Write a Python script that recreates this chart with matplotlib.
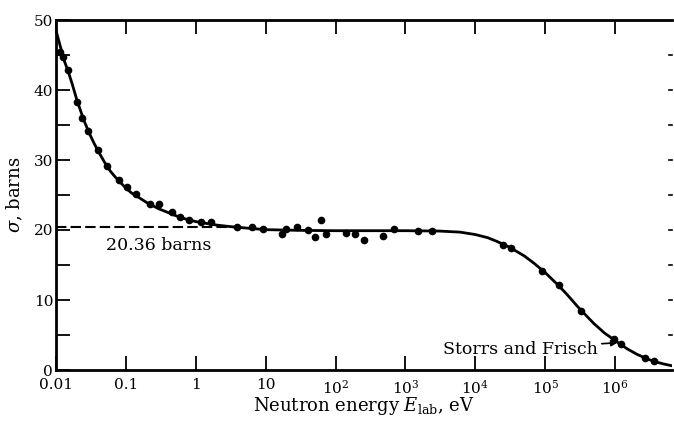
import matplotlib
matplotlib.use("Agg")
import matplotlib.pyplot as plt
from matplotlib.ticker import FixedLocator, NullLocator

# measured points (energy in eV, cross section in barns)
energy_pts = [0.0114, 0.0126, 0.0148, 0.0199, 0.0235, 0.0286, 0.0398, 0.0535,
              0.0794, 0.103, 0.139, 0.22, 0.296, 0.45, 0.59, 0.79, 1.18, 1.63,
              3.85, 6.3, 9.06, 16.9, 19.3, 27.7, 39.8, 50.1, 61.1, 72.0,
              139, 187, 251, 469, 674, 1535, 2430,
              2.51e4, 3.27e4, 9.06e4, 1.58e5, 3.27e5, 9.68e5, 1.22e6, 2.69e6, 3.6e6]
sigma_pts = [45.4, 44.7, 42.9, 38.3, 36.0, 34.1, 31.4, 29.2,
             27.2, 26.2, 25.2, 23.7, 23.7, 22.6, 21.9, 21.5, 21.2, 21.2,
             20.4, 20.4, 20.1, 19.4, 20.1, 20.4, 20.0, 19.0, 21.4, 19.4,
             19.6, 19.5, 18.6, 19.2, 20.2, 19.9, 19.9,
             17.9, 17.4, 14.1, 12.2, 8.5, 4.4, 3.7, 1.7, 1.3]

# fitted curve
curve_E = [0.01, 0.012, 0.013, 0.015, 0.017, 0.02, 0.025, 0.03, 0.035, 0.04,
           0.05, 0.06, 0.07, 0.085, 0.1, 0.12, 0.15, 0.2, 0.25, 0.3, 0.4,
           0.5, 0.7, 1, 1.5, 2, 3, 5, 10, 30, 100, 1000,
           3000, 6000, 1e4, 1.5e4, 2e4, 3e4, 5e4, 7e4, 1e5, 1.5e5, 2e5, 3e5,
           4e5, 5e5, 7e5, 1e6, 1.5e6, 2e6, 2.5e6, 3e6, 4e6, 5e6, 6.5e6]
curve_sigma = [48.5, 45.6, 44.3, 42.6, 40.9, 38.5, 35.7, 33.8, 32.4, 31.3,
               29.6, 28.4, 27.6, 26.7, 26.0, 25.3, 24.7, 23.9, 23.4, 23.0, 22.5,
               22.1, 21.6, 21.2, 20.9, 20.7, 20.5, 20.3, 20.05, 19.95, 19.9, 19.9,
               19.85, 19.7, 19.35, 18.9, 18.4, 17.6, 16.3, 15.2, 13.9, 12.2, 10.9, 8.9,
               7.6, 6.6, 5.3, 4.2, 3.0, 2.3, 1.85, 1.5, 1.1, 0.85, 0.6]

free_sigma = 20.36
dash_E = [0.01, 4.0]

xticks = [0.01, 0.1, 1, 10, 1e2, 1e3, 1e4, 1e5, 1e6]
xticklabels = ["0.01", "0.1", "1", "10", "$10^2$", "$10^3$", "$10^4$",
               "$10^5$", "$10^6$"]

plt.rcParams["font.family"] = ["DejaVu Serif"]
plt.rcParams["mathtext.fontset"] = "dejavuserif"

fig = plt.figure(figsize=(6.74, 4.22), dpi=100)
ax = fig.add_axes([56 / 674, 1 - 370 / 422, (672 - 56) / 674, 350 / 422])

ax.plot(curve_E, curve_sigma, color="black", lw=2.0, zorder=3)
ax.plot(energy_pts, sigma_pts, "o", color="black", ms=4.5, zorder=4)
ax.plot(dash_E, [free_sigma, free_sigma], color="black", lw=1.5,
        linestyle=(0, (5, 2)), zorder=2)

ax.set_xscale("log")
ax.set_xlim(0.01, 6.5e6)
ax.set_ylim(0, 50)

ax.xaxis.set_major_locator(FixedLocator(xticks))
ax.xaxis.set_minor_locator(NullLocator())
ax.set_xticklabels(xticklabels, fontsize=11)
ax.set_yticks([0, 10, 20, 30, 40, 50])
ax.set_yticks([5, 15, 25, 35, 45], minor=True)
ax.tick_params(axis="y", labelsize=11)

ax.tick_params(axis="x", which="major", direction="in", length=10, width=1.3,
               top=True, pad=6)
ax.tick_params(axis="y", which="both", direction="in", length=10, width=1.3,
               pad=2)
ax.spines["right"].set_visible(False)
for s in ["left", "bottom", "top"]:
    ax.spines[s].set_linewidth(2.0)

# short ticks along the right edge every 5 barns
for v in range(5, 50, 5):
    ax.plot([5.8e6, 6.5e6], [v, v], color="black", lw=1.2, clip_on=False)

ax.set_xlabel("Neutron energy $E_{\\mathrm{lab}}$, eV", fontsize=13, labelpad=-1)
ax.set_ylabel("$\\sigma$, barns", fontsize=13, labelpad=6)

ax.text(0.052, 17.8, "20.36 barns", fontsize=12.5, va="center", ha="left")
ax.annotate("Storrs and Frisch", xy=(1.08e6, 3.9), xytext=(5.6e5, 3.0),
            fontsize=12.5, ha="right", va="center",
            arrowprops=dict(arrowstyle="-|>", color="black", lw=1.2,
                            mutation_scale=9, shrinkA=1, shrinkB=0))

fig.savefig("out.png", dpi=100)
